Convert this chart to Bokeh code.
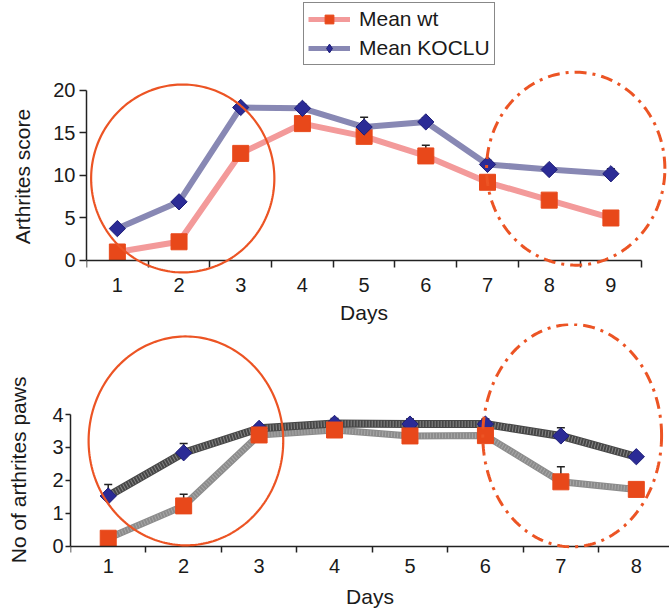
import numpy as np
from bokeh.plotting import figure
from bokeh.models import (FixedTicker, Legend, LegendItem, Whisker, ColumnDataSource,
                          PolyAnnotation, TeeHead, Range1d)
from bokeh.embed import file_html
from bokeh.resources import INLINE

# ---------------- data ----------------
days_top = [1, 2, 3, 4, 5, 6, 7, 8, 9]
wt_score = [1.0, 2.2, 12.6, 16.1, 14.6, 12.3, 9.2, 7.1, 5.0]
wt_score_err = [0.3, 0.4, 0.6, 0.8, 0.6, 1.25, 0.5, 0.4, 0.3]
ko_score = [3.75, 6.9, 18.0, 17.9, 15.7, 16.3, 11.3, 10.7, 10.2]
ko_score_err = [0.3, 0.4, 0.3, 0.5, 1.15, 0.5, 0.5, 0.4, 0.6]

days_bottom = [1, 2, 3, 4, 5, 6, 7, 8]
wt_paws = [0.25, 1.23, 3.38, 3.53, 3.35, 3.36, 1.96, 1.73]
wt_paws_err = [0.1, 0.35, 0.15, 0.1, 0.1, 0.1, 0.46, 0.15]
ko_paws = [1.53, 2.84, 3.58, 3.73, 3.71, 3.71, 3.35, 2.72]
ko_paws_err = [0.35, 0.28, 0.1, 0.15, 0.15, 0.15, 0.25, 0.1]

top_yticks = [0, 5, 10, 15, 20]
bottom_yticks = [0, 1, 2, 3, 4]
series_names = ["Mean wt", "Mean KOCLU"]

# highlight ellipses: (center day, center value, width in days, height in values, dashed?)
top_ellipses = [(2.06, 9.65, 2.97, 22.1, False), (8.43, 10.8, 2.89, 22.7, True)]
bottom_ellipses = [(2.03, 3.2, 2.58, 6.33, False), (7.15, 3.36, 2.37, 6.74, True)]

FONT = "Liberation Sans"
TXT = "#1a1a1a"
WT_LINE_TOP = "#f39a9a"
KO_LINE_TOP = "#8888b4"
WT_MARK = "#e8481a"
KO_MARK = "#2b2b96"
KO_EDGE = "#1e1e78"
ELL = "#ec5424"


def style(p):
    p.xgrid.visible = False
    p.ygrid.visible = False
    p.outline_line_color = None
    p.background_fill_alpha = 0
    p.border_fill_alpha = 0
    for ax in (p.xaxis[0], p.yaxis[0]):
        ax.axis_line_color = "#222222"
        ax.axis_line_width = 1.5
        ax.major_tick_line_color = "#222222"
        ax.major_tick_line_width = 1.5
        ax.minor_tick_line_color = "#222222"
        ax.minor_tick_line_width = 1.5
        ax.major_label_text_font = FONT
        ax.major_label_text_font_size = "20px"
        ax.major_label_text_color = TXT
        ax.axis_label_text_font = FONT
        ax.axis_label_text_font_size = "21px"
        ax.axis_label_text_font_style = "normal"
        ax.axis_label_text_color = TXT


def add_ellipses(p, ells):
    t = np.linspace(0, 2 * np.pi, 240)
    for cx, cy, w, h, dashed in ells:
        xs = list(cx + w / 2 * np.cos(t))
        ys = list(cy + h / 2 * np.sin(t))
        ann = PolyAnnotation(xs=xs, ys=ys, fill_color=None, fill_alpha=0,
                             line_color=ELL, line_alpha=1,
                             line_width=3 if dashed else 2.2,
                             line_dash="12 6 3 6" if dashed else "solid")
        p.add_layout(ann)


def add_errors(p, src, col_lo, col_hi):
    p.add_layout(Whisker(source=src, base="x", lower=col_lo, upper=col_hi, lower_head=None,
                         upper_head=TeeHead(size=8, line_color="#222222", line_width=1.5),
                         line_color="#222222", line_width=1.5))


src_t = ColumnDataSource(dict(x=days_top, wt=wt_score, ko=ko_score,
                              wt_up=[v + e for v, e in zip(wt_score, wt_score_err)],
                              ko_up=[v + e for v, e in zip(ko_score, ko_score_err)]))
src_b = ColumnDataSource(dict(x=days_bottom, wt=wt_paws, ko=ko_paws,
                              wt_up=[v + e for v, e in zip(wt_paws, wt_paws_err)],
                              ko_up=[v + e for v, e in zip(ko_paws, ko_paws_err)]))

# ---------------- legend strip (its series sit outside its view; only the key shows) ----------------
p0 = figure(width=669, height=71, x_range=Range1d(-20, -19), y_range=Range1d(-20, -19),
            x_axis_type=None, y_axis_type=None, output_backend="svg",
            toolbar_location=None, title=None, min_border=0)
p0.outline_line_color = None
p0.background_fill_color = "white"
p0.border_fill_color = "white"
g_wt_l = p0.line("x", "wt", source=src_t, line_color=WT_LINE_TOP, line_width=5)
g_wt_m = p0.scatter("x", "wt", source=src_t, marker="square", size=12, fill_color=WT_MARK,
                    line_color=WT_MARK)
g_ko_l = p0.line("x", "ko", source=src_t, line_color=KO_LINE_TOP, line_width=5)
g_ko_m = p0.scatter("x", "ko", source=src_t, marker="diamond", size=12,
                    fill_color=KO_MARK, line_color=KO_EDGE)
legend = Legend(items=[LegendItem(label=series_names[0], renderers=[g_wt_l, g_wt_m]),
                       LegendItem(label=series_names[1], renderers=[g_ko_l, g_ko_m])],
                location=(303, 6), orientation="vertical")
legend.border_line_color = "#111111"
legend.border_line_width = 1.5
legend.background_fill_color = "white"
legend.background_fill_alpha = 1
legend.label_text_font = FONT
legend.label_text_font_size = "21px"
legend.label_text_color = TXT
legend.padding = 4
legend.spacing = 5
legend.margin = 0
legend.glyph_width = 42
legend.glyph_height = 22
legend.label_height = 22
legend.label_standoff = 9
p0.add_layout(legend, "center")

# ---------------- top chart ----------------
p1 = figure(width=669, height=304, x_range=Range1d(0.5, 9.95), y_range=Range1d(-8.0, 27.76),
            output_backend="svg", toolbar_location=None, title=None,
            min_border_left=86, min_border_right=0, min_border_top=0, min_border_bottom=0)
style(p1)
p1.margin = (-47, 0, 0, 0)
p1.yaxis.ticker = FixedTicker(ticks=top_yticks)
p1.yaxis.bounds = (0, 20)
p1.yaxis.major_tick_out = 7
p1.yaxis.major_tick_in = 0
p1.yaxis.minor_tick_out = 0
p1.yaxis.major_label_standoff = 4
p1.yaxis.axis_label = "Arthrites score"
p1.yaxis.axis_label_standoff = 16

p1.xaxis.ticker = FixedTicker(ticks=days_top, minor_ticks=[d - 0.5 for d in days_top] + [days_top[-1] + 0.5])
p1.xaxis.bounds = (0.5, 9.5)
p1.xaxis.fixed_location = 0
p1.xaxis.major_tick_out = 0
p1.xaxis.major_tick_in = 0
p1.xaxis.minor_tick_out = 7
p1.xaxis.minor_tick_in = 0
p1.xaxis.major_label_standoff = 11
p1.xaxis.axis_label = "Days"
p1.xaxis.axis_label_standoff = 5

add_ellipses(p1, top_ellipses)
add_errors(p1, src_t, "wt", "wt_up")
add_errors(p1, src_t, "ko", "ko_up")

p1.line("x", "wt", source=src_t, line_color=WT_LINE_TOP, line_width=6)
p1.scatter("x", "wt", source=src_t, marker="square", size=16, fill_color=WT_MARK,
           line_color=WT_MARK)
p1.line("x", "ko", source=src_t, line_color=KO_LINE_TOP, line_width=6)
p1.scatter("x", "ko", source=src_t, marker="square", angle=np.pi / 4, size=11.5,
           fill_color=KO_MARK, line_color=KO_EDGE)

# ---------------- bottom chart ----------------
p2 = figure(width=669, height=287, x_range=Range1d(0.5, 8.44), y_range=Range1d(-1.94, 6.758),
            output_backend="svg", toolbar_location=None, title=None,
            min_border_left=70, min_border_right=0, min_border_top=0, min_border_bottom=0)
style(p2)
p2.margin = (-5, 0, 0, 0)
p2.yaxis.ticker = FixedTicker(ticks=bottom_yticks)
p2.yaxis.bounds = (0, 4)
p2.yaxis.major_tick_out = 5
p2.yaxis.major_tick_in = 0
p2.yaxis.minor_tick_out = 0
p2.yaxis.major_label_standoff = 2
p2.yaxis.axis_label = "No of arthrites  paws"
p2.yaxis.axis_label_standoff = 19

p2.xaxis.ticker = FixedTicker(ticks=days_bottom,
                              minor_ticks=[d - 0.5 for d in days_bottom] + [days_bottom[-1] + 0.5])
p2.xaxis.bounds = (0.5, 8.5)
p2.xaxis.fixed_location = 0
p2.xaxis.major_tick_out = 0
p2.xaxis.major_tick_in = 0
p2.xaxis.minor_tick_out = 6
p2.xaxis.minor_tick_in = 0
p2.xaxis.major_label_standoff = 7
p2.xaxis.axis_label = "Days"
p2.xaxis.axis_label_standoff = 8

add_ellipses(p2, bottom_ellipses)
add_errors(p2, src_b, "wt", "wt_up")
add_errors(p2, src_b, "ko", "ko_up")

p2.line("x", "wt", source=src_b, line_color="#8c8c8c", line_width=7)
p2.line("x", "wt", source=src_b, line_color="#c4c4c4", line_width=5, line_dash="1 2", line_alpha=0.5)
p2.line("x", "ko", source=src_b, line_color="#474747", line_width=8)
p2.line("x", "ko", source=src_b, line_color="#b0b0b0", line_width=6, line_dash="1 2", line_alpha=0.6)
p2.scatter("x", "ko", source=src_b, marker="square", angle=np.pi / 4, size=11.5,
           fill_color=KO_MARK, line_color=KO_EDGE)
p2.scatter("x", "wt", source=src_b, marker="square", size=16, fill_color=WT_MARK,
           line_color=WT_MARK)

open("out.html", "w").write(file_html([p0, p1, p2], INLINE))
